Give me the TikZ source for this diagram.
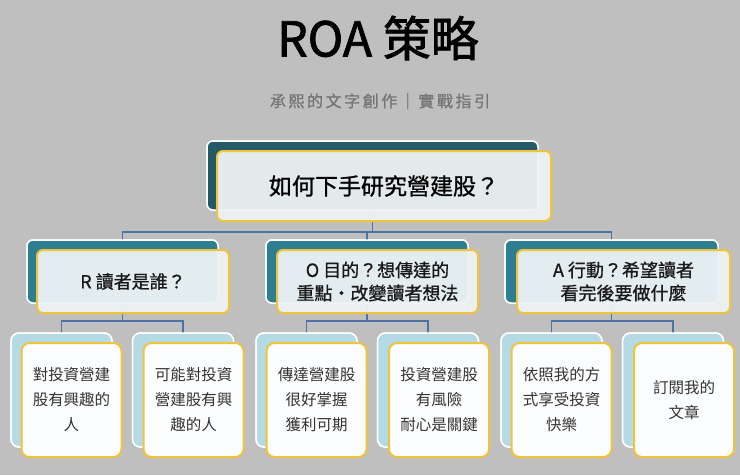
\documentclass[tikz,border=0pt]{standalone}
\usepackage{fontspec}
\setmainfont{Noto Sans CJK TC}
\newfontfamily\subfont[LetterSpace=16,FakeBold=0.8]{Noto Sans CJK TC}
\newfontfamily\medfont[FakeBold=0.9]{Noto Sans CJK TC}
\newfontfamily\titlefont[FakeBold=1.6]{Noto Sans CJK TC}
\definecolor{bgc}{HTML}{BFBFBF}
\definecolor{darkteal}{HTML}{245A67}
\definecolor{midteal}{HTML}{2C7E90}
\definecolor{lightblue}{HTML}{B4DAE6}
\definecolor{goldline}{HTML}{F0C43A}
\definecolor{frontfill}{HTML}{EFF3F4}
\definecolor{leaffill}{HTML}{FCFDFE}
\definecolor{connc}{HTML}{4E71A6}
\definecolor{subgray}{HTML}{747474}
\definecolor{leaftext}{HTML}{333333}
\begin{document}
\begin{tikzpicture}[x=1pt,y=-1pt,
  box/.style={rectangle, inner sep=0pt, outer sep=0pt},
  topback/.style={box, draw=white, line width=1.5pt, fill=darkteal, rounded corners=6pt, minimum width=331pt, minimum height=69pt},
  topfront/.style={box, draw=goldline, line width=2pt, fill=frontfill, fill opacity=0.94, text opacity=1, rounded corners=6pt, minimum width=334pt, minimum height=70pt, font=\medfont\fontsize{23}{27}\selectfont, text=black},
  midback/.style={box, draw=white, line width=1.5pt, fill=midteal, rounded corners=6pt, minimum height=63pt},
  midfront/.style={box, draw=goldline, line width=2pt, fill=frontfill, fill opacity=0.94, text opacity=1, rounded corners=6pt, minimum height=63pt, align=center, font=\medfont\fontsize{18}{23}\selectfont, text=black!90},
  leafback/.style={box, draw=white, line width=1.5pt, fill=lightblue, rounded corners=8pt, minimum width=101pt, minimum height=114pt},
  leaffront/.style={box, draw=goldline, line width=2pt, fill=leaffill, text opacity=1, rounded corners=8pt, minimum width=100pt, minimum height=114pt, align=center, font=\fontsize{15.5}{25}\selectfont, text=leaftext},
  conn/.style={draw=connc, line width=1.6pt}
]
\fill[bgc] (0,0) rectangle (740,475);
\useasboundingbox (0,0) rectangle (740,475);

% titles
\node[font=\titlefont\fontsize{48}{52}\selectfont, text=black] (title) at (378,38) {ROA 策略};
\node[font=\subfont\fontsize{16}{20}\selectfont, text=subgray] (sub) at (380,101) {承熙的文字創作｜實戰指引};

\coordinate (bus1) at (372,232);
\coordinate (bus2) at (0,321);

\node[topback] (tb) at (372.5,175.5) {};

\node[midback, minimum width=191pt] (Rb) at (122.5,271.5) {};
\node[midback, minimum width=202pt] (Ob) at (367,271.5) {};
\node[midback, minimum width=213pt] (Ab) at (611.5,271.5) {};

\node[leafback] (r1b) at (61.5,390) {};
\node[leafback] (r2b) at (183,390) {};
\node[leafback] (o1b) at (306.5,390) {};
\node[leafback] (o2b) at (428,390) {};
\node[leafback] (a1b) at (551.5,390) {};
\node[leafback] (a2b) at (673,390) {};

% connectors
\draw[conn] (tb.south) -- (tb.south |- bus1);
\draw[conn] (Rb.north) -- (Rb.north |- bus1) -- (Ab.north |- bus1) -- (Ab.north);
\draw[conn] (Ob.north) -- (Ob.north |- bus1);

\draw[conn] (Rb.south) -- (Rb.south |- bus2);
\draw[conn] (r1b.north) -- (r1b.north |- bus2) -- (r2b.north |- bus2) -- (r2b.north);
\draw[conn] (Ob.south) -- (Ob.south |- bus2);
\draw[conn] (o1b.north) -- (o1b.north |- bus2) -- (o2b.north |- bus2) -- (o2b.north);
\draw[conn] (Ab.south) -- (Ab.south |- bus2);
\draw[conn] (a1b.north) -- (a1b.north |- bus2) -- (a2b.north |- bus2) -- (a2b.north);

% redraw back boxes above connectors
\node[topback] at (tb) {};
\node[midback, minimum width=191pt] at (Rb) {};
\node[midback, minimum width=202pt] at (Ob) {};
\node[midback, minimum width=213pt] at (Ab) {};
\foreach \n in {r1b,r2b,o1b,o2b,a1b,a2b} {\node[leafback] at (\n) {};}

% front boxes
\node[topfront] (tf) at (384,186) {如何下手研究營建股？};

\node[midfront, minimum width=192pt] (Rf) at (133,281.5) {R 讀者是誰？};
\node[midfront, minimum width=201pt] (Of) at (377.5,281.5) {O 目的？想傳達的\\重點・改變讀者想法};
\node[midfront, minimum width=213pt] (Af) at (623.5,281.5) {A 行動？希望讀者\\看完後要做什麼};

\node[leaffront] (r1f) at (71.5,400) {對投資營建\\股有興趣的\\人};
\node[leaffront] (r2f) at (193.5,400) {可能對投資\\營建股有興\\趣的人};
\node[leaffront] (o1f) at (316.5,400) {傳達營建股\\很好掌握\\獲利可期};
\node[leaffront] (o2f) at (439,400) {投資營建股\\有風險\\耐心是關鍵};
\node[leaffront] (a1f) at (561.5,400) {依照我的方\\式享受投資\\快樂};
\node[leaffront] (a2f) at (684,400) {訂閱我的\\文章};
\end{tikzpicture}
\end{document}
